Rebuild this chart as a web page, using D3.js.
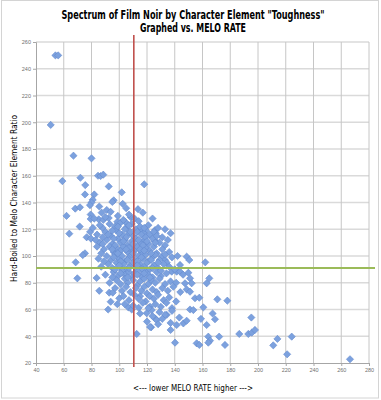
<!DOCTYPE html>
<html><head><meta charset="utf-8">
<script src="https://cdn.jsdelivr.net/npm/d3@7"></script>
<style>body{margin:0;background:#fff}</style>
</head><body><svg id="c" width="381" height="400"></svg>
<script>
const titleLines = ["Spectrum of Film Noir by Character Element \"Toughness\"", "Graphed vs. MELO RATE"];
const xAxisTitle = "<--- lower MELO RATE higher --->";
const yAxisTitle = "Hard-Boiled to Melo Character Element Ratio";
const xTicks = [40,60,80,100,120,140,160,180,200,220,240,260,280];
const yTicks = [20,40,60,80,100,120,140,160,180,200,220,240,260];
const meloRateRef = 110.5;
const ratioRef = 91;

// sparse / outlying films [melo rate, hard-boiled to melo ratio]
const outerFilms = [
[54,250],[56,250],[50.6,198],
[67,175],[80,173],[59,156],[72,158.5],[84.7,160],[86.6,159.8],[88.5,160.8],[75.5,153],[92.4,152],[118,153.6],
[75.3,146],[82,146],[101.8,147.6],[80.9,142],[80,140],[96,141.6],[95,140.4],[102.5,139],[68.3,135.4],[71.7,136.4],
[78.9,138],[85.6,137],[91,134.4],[93.8,133],[105,135.7],[113.5,135],[117,132.4],[62,130],[79.4,131],[79.4,127.7],
[87.3,132.4],[85.2,127.4],[88.5,127],[92.4,128.4],[98.6,125.6],[108.3,129],[104.4,125.4],[71.5,122],[64,116.7],
[79,118],[76.5,114],[79.6,113],[75.3,102],[73.7,100.7],[115.7,119.4],[119.3,119],[117.6,117],[125.8,119.4],[126.3,117],
[125.8,111.4],[130.6,99.5],[148.6,99.5],
[68.6,95.3],[69.8,83.3],[83.7,83.6],[85.6,74],[92.8,72.6],[95.3,72.6],[93.8,65.8],[100,68.4],[98.6,64],[92,60],
[106.5,61.6],[109,60],[114,61.3],[112.6,41.7],[115,70],[123,46.7],[119.8,57.2],[125.8,53.4],[127,52],[122.2,62],[123.4,59.6],
[125.8,110.7],[133,97],[134.2,95],[150.5,97],[143.8,93.3],[162,95.3],[137.8,88.3],[141.4,88.3],[143.8,88.3],[149.8,87.5],
[151,83.3],[152.2,79.6],[164.9,83.3],[163,79.6],[147.4,79.6],[148.6,75],[151,73.3],[154.6,68.4],[157.7,68.8],[170.7,67.6],
[177.9,66.6],[160.6,61.6],[151,60],[153.4,59.6],[167.3,57],[169,52.7],[158.9,53],[146.2,49.6],[148.6,51.6],[141.4,48.4],
[143.3,54],[163,48.4],[134.2,56],[137,44.7],[140.2,35.2],[155.8,34.7],[157.7,33.5],[164.2,39.7],[165.4,36.7],[164.2,35.2],
[172,39.7],[176.2,33.5],[186.5,41.7],[193,41.7],[195.5,42.7],[197.8,44.7],[195.2,54],[214,38],[211,33.2],[224.3,39.7],
[221,26.5],[266.3,22.8],[122.2,47]
];

// dense core of films
const coreFilms = [
[88,121],[93,124],[97,122],[101,125],[105,121],[109,124],[112,120],[121,123],[128,121],
[84,116],[90,118],[94,115],[98,119],[102,116],[104,120],[107,117],[110,115],[113,118],[122,116],[131,114],
[86,110],[91,112],[95,109],[99,113],[101,110],[104,112],[106,108],[109,111],[112,113],[115,110],[118,112],[121,109],[124,113],[129,110],[133,108],
[89,105],[93,107],[96,103],[98,106],[101,104],[103,107],[106,103],[108,106],[111,104],[113,107],[116,103],[119,106],[122,104],[125,107],[127,102],[131,105],[136,103],
[85,98],[91,100],[94,97],[97,101],[100,98],[102,100],[104,96],[107,99],[109,101],[111,97],[114,100],[117,98],[119,101],[121,96],[124,99],[126,101],[129,97],[138,99],[142,100],
[87,92],[92,94],[95,91],[98,95],[101,92],[103,94],[105,90],[108,93],[110,95],[112,91],[115,94],[118,92],[120,95],[122,90],[125,93],[128,91],[132,94],[136,92],[140,90],
[90,86],[96,88],[99,85],[102,89],[104,86],[107,88],[109,84],[111,87],[114,89],[116,85],[119,88],[121,86],[124,84],[127,88],[130,85],[134,87],[146,86],
[93,80],[98,82],[101,79],[104,83],[106,80],[110,82],[113,78],[115,81],[118,83],[121,79],[123,82],[126,80],[129,83],[133,79],[137,81],[141,80],
[97,76],[102,74],[105,77],[108,73],[112,76],[116,74],[118,77],[120,72],[124,75],[127,73],[131,76],[135,74],[139,77],[144,73],
[103,70],[107,67],[111,71],[114,68],[119,66],[122,70],[125,68],[128,71],[132,67],[136,69],[141,66],
[104,64],[110,63],[117,65],[121,61],[126,64],[130,62],[134,65],[138,61],
[115,57],[124,55],[129,58],[133,56],[138,59],
[120,51],[128,49],[131,53],[137,50],
[82,128],[90,129],[99,130],[103,127],[107,131],[111,128],[114,126],[124,128],
[81,121],[86,123],[95,119],[99,122],[107,123],[115,122],[118,121],[125,118],[133,120],[137,117],
[83,112],[88,114],[92,116],[96,113],[100,117],[105,114],[108,118],[116,116],[119,114],[127,115],[135,112],
[84,107],[88,109],[97,108],[103,111],[107,106],[110,109],[114,112],[117,108],[120,111],[126,110],
[87,102],[95,105],[99,102],[105,105],[110,102],[115,105],[118,104],[123,102],[133,101],
[89,96],[96,99],[101,96],[106,97],[113,96],[116,99],[123,97],[128,95],
[97,90],[100,93],[107,91],[113,93],[117,90],[124,91],[130,89],
[95,84],[101,87],[106,84],[113,86],[118,87],[122,84]
];

const films = outerFilms.concat(coreFilms);

const svg = d3.select("#c");
const W = 381, H = 400;
svg.append("rect").attr("x",0).attr("y",0).attr("width",W).attr("height",H).attr("fill","#fff");
svg.append("rect").attr("x",1.5).attr("y",0.5).attr("width",377).attr("height",397.5)
  .attr("fill","none").attr("stroke","#d4d4d4").attr("stroke-width",1);

const x = d3.scaleLinear().domain([40,280]).range([36,369]);
const y = d3.scaleLinear().domain([20,260]).range([363,42]);

// gridlines
svg.append("g").selectAll("line").data(yTicks.slice(1)).join("line")
  .attr("x1",x(40)).attr("x2",x(280)).attr("y1",d=>y(d)).attr("y2",d=>y(d))
  .attr("stroke","#dadada").attr("stroke-width",1.5);
svg.append("g").selectAll("line").data(xTicks.slice(1)).join("line")
  .attr("y1",y(20)).attr("y2",y(260)).attr("x1",d=>x(d)).attr("x2",d=>x(d))
  .attr("stroke","#c6c6c6").attr("stroke-width",1);

// axes
const xAxis = d3.axisBottom(x).tickValues(xTicks).tickSize(3).tickFormat(d3.format("d"));
const yAxis = d3.axisLeft(y).tickValues(yTicks).tickSize(3).tickFormat(d3.format("d"));
const gx = svg.append("g").attr("transform",`translate(0,${y(20)})`).call(xAxis);
const gy = svg.append("g").attr("transform",`translate(${x(40)},0)`).call(yAxis);
[gx,gy].forEach(g=>{
  g.select(".domain").attr("stroke","#a6a6a6");
  g.selectAll(".tick line").attr("stroke","#a6a6a6");
  g.selectAll(".tick text").attr("fill","#707070").attr("font-family","Liberation Sans, Arial, sans-serif").attr("font-size",5.5);
});
gx.selectAll(".tick text").attr("dy","0.9em").attr("y",4);
gy.selectAll(".tick text").attr("x",-5);

// diamond markers
const diamond = {draw(ctx,size){const r=Math.sqrt(size/2);ctx.moveTo(0,-r);ctx.lineTo(r,0);ctx.lineTo(0,r);ctx.lineTo(-r,0);ctx.closePath();}};
const sym = d3.symbol().type(diamond).size(26);
svg.append("g").selectAll("path").data(films).join("path")
  .attr("transform",d=>`translate(${x(d[0])},${y(d[1])})`)
  .attr("d",sym).attr("fill","#7ca1de").attr("stroke","#6389cf").attr("stroke-width",0.6);

// reference lines
svg.append("line").attr("x1",x(meloRateRef)).attr("x2",x(meloRateRef)).attr("y1",35).attr("y2",367)
  .attr("stroke","#c0504d").attr("stroke-width",1.6);
svg.append("line").attr("x1",x(40)).attr("x2",375).attr("y1",y(ratioRef)).attr("y2",y(ratioRef))
  .attr("stroke","#9bbb59").attr("stroke-width",2);

// titles
const tf = "'DejaVu Sans Condensed', 'DejaVu Sans', sans-serif";
const titleWidths = [263, 106];
svg.append("g").selectAll("text").data(titleLines).join("text")
  .attr("x",193).attr("y",(d,i)=>18.5+i*13).attr("text-anchor","middle")
  .attr("font-family",tf).attr("font-weight","bold").attr("font-size",11.5).attr("fill","#000")
  .attr("textLength",(d,i)=>titleWidths[i]).attr("lengthAdjust","spacingAndGlyphs")
  .text(d=>d);
svg.append("text").attr("x",193).attr("y",391).attr("text-anchor","middle")
  .attr("font-family",tf).attr("font-size",9.5).attr("fill","#000")
  .attr("textLength",120).attr("lengthAdjust","spacingAndGlyphs").text(xAxisTitle);
svg.append("text").attr("transform","translate(17,198.5) rotate(-90)").attr("text-anchor","middle")
  .attr("font-family",tf).attr("font-size",9).attr("fill","#000")
  .attr("textLength",167).attr("lengthAdjust","spacingAndGlyphs").text(yAxisTitle);
</script></body></html>
